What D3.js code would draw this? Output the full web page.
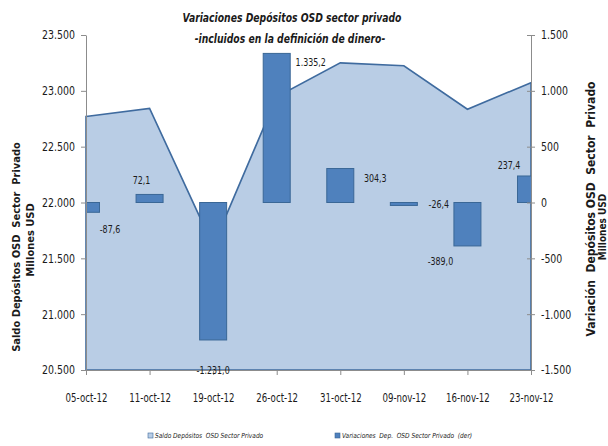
<!DOCTYPE html>
<html><head><meta charset="utf-8">
<script src="https://cdn.jsdelivr.net/npm/d3@7"></script>
<style>
body{margin:0;background:#fff}
svg{display:block}
text{font-family:"DejaVu Sans Condensed","DejaVu Sans",sans-serif;fill:#1a1a1a}
</style>
</head><body>
<svg id="c" width="608" height="446"></svg>
<script>
const categories = ["05-oct-12","11-oct-12","19-oct-12","26-oct-12","31-oct-12","09-nov-12","16-nov-12","23-nov-12"];
const saldo = [22770.0, 22842.1, 21611.1, 22946.3, 23250.6, 23224.2, 22835.2, 23072.6];
const variacion = [-87.6, 72.1, -1231.0, 1335.2, 304.3, -26.4, -389.0, 237.4];
const leftTicks = [20500, 21000, 21500, 22000, 22500, 23000, 23500];
const rightTicks = [-1500, -1000, -500, 0, 500, 1000, 1500];
const titleLines = ["Variaciones Depósitos OSD sector privado", "-incluidos en la definición de dinero-"];
const leftTitle = ["Saldo Depósitos OSD  Sector  Privado", "Millones USD"];
const rightTitle = ["Variación  Depósitos OSD  Sector  Privado", "Millones USD"];
const legendLabels = ["Saldo Depósitos  OSD Sector Privado", "Variaciones  Dep.  OSD Sector Privado  (der)"];

// label offsets (px) relative to bar end
const labelOffsets = [[24,17],[-8,-14],[0,30],[34,9],[35,10],[35,-1],[-27,15],[-22,-11]];

const locale = d3.formatLocale({decimal:",", thousands:".", grouping:[3], currency:["",""], minus:"-"});
const fmtTick = locale.format(",.0f");
const fmtVal = locale.format(",.1f");

// emulate a narrow (Calibri-like) face by compressing glyphs horizontally
function condense(sel, f){
  sel.each(function(){
    const w = this.getComputedTextLength();
    this.setAttribute("textLength", (w*f).toFixed(1));
    this.setAttribute("lengthAdjust","spacingAndGlyphs");
  });
}

const svg = d3.select("#c");
const L = 86, R = 531, T = 35, B = 370;

const x = d3.scalePoint().domain(categories).range([L, R]);
const yL = d3.scaleLinear().domain([20500, 23500]).range([B, T]);
const yR = d3.scaleLinear().domain([-1500, 1500]).range([B, T]);

const lineColor = "#3f6b9f";
const areaFill = "#b9cde5";
const barFill = "#4f81bd";
const barStroke = "#3a6796";
const axisColor = "#8c8c8c";

svg.append("defs").append("clipPath").attr("id","plot")
  .append("rect").attr("x",L).attr("y",T-2).attr("width",R-L).attr("height",B-T+4);

const g = svg.append("g");

// Area
const area = d3.area().x((d,i)=>x(categories[i])).y0(yL(20500)).y1(d=>yL(d));
g.append("path").datum(saldo).attr("d", area)
  .attr("fill", areaFill).attr("stroke", lineColor).attr("stroke-width", 1.6).attr("stroke-linejoin","miter");

// Bars
const bw = 27;
g.append("g").attr("clip-path","url(#plot)").selectAll("rect").data(variacion).join("rect")
  .attr("x",(d,i)=>x(categories[i]) - bw/2)
  .attr("y",d=>yR(Math.max(0,d)))
  .attr("width",bw)
  .attr("height",d=>Math.abs(yR(d)-yR(0)))
  .attr("fill",barFill).attr("stroke",barStroke).attr("stroke-width",1);

// Left axis
const la = svg.append("g").attr("transform",`translate(${L},0)`)
  .call(d3.axisLeft(yL).tickValues(leftTicks).tickFormat(fmtTick).tickSizeInner(5).tickSizeOuter(0).tickPadding(6));
la.select(".domain").attr("stroke",axisColor);
la.selectAll(".tick line").attr("stroke",axisColor);
la.selectAll("text").style("font-size","12px").attr("fill","#1a1a1a").call(condense,0.87);

// Right axis
const ra = svg.append("g").attr("transform",`translate(${R},0)`)
  .call(d3.axisRight(yR).tickValues(rightTicks).tickFormat(fmtTick).tickSizeInner(4).tickSizeOuter(0).tickPadding(6));
ra.select(".domain").attr("stroke",axisColor);
ra.selectAll(".tick line").attr("stroke",axisColor).attr("x1",-4);
ra.selectAll("text").style("font-size","12px").attr("fill","#1a1a1a").call(condense,0.87);

// Bottom axis
const ba = svg.append("g").attr("transform",`translate(0,${B})`)
  .call(d3.axisBottom(x).tickSizeInner(5).tickSizeOuter(0).tickPadding(18));
ba.select(".domain").attr("stroke",axisColor);
ba.selectAll(".tick line").attr("stroke",axisColor);
ba.selectAll("text").style("font-size","12px").attr("fill","#1a1a1a").call(condense,0.8);

// Value labels
svg.append("g").selectAll("text").data(variacion).join("text")
  .attr("x",(d,i)=>x(categories[i]) + labelOffsets[i][0])
  .attr("y",(d,i)=>yR(d) + labelOffsets[i][1])
  .attr("text-anchor","middle").attr("dy","0.35em")
  .style("font-size","11px")
  .text(d=>fmtVal(d))
  .call(condense,0.8);

// Title
svg.append("g").selectAll("text").data(titleLines).join("text")
  .attr("x",(d,i)=> i===0 ? 292 : 290)
  .attr("y",(d,i)=> i===0 ? 17 : 38)
  .attr("dy","0.35em").attr("text-anchor","middle")
  .style("font-size","13px").style("font-weight","bold").style("font-style","italic")
  .text(d=>d)
  .call(condense,0.79);

// Left axis title
const lt = svg.append("g");
lt.append("text").attr("transform","translate(16,247) rotate(-90)").attr("text-anchor","middle").attr("dy","0.35em")
  .style("font-size","11px").style("font-weight","bold").style("white-space","pre").text(leftTitle[0]);
lt.append("text").attr("transform","translate(30,240) rotate(-90)").attr("text-anchor","middle").attr("dy","0.35em")
  .style("font-size","11px").style("font-weight","bold").text(leftTitle[1]);

// Right axis title
const rt = svg.append("g");
rt.append("text").attr("transform","translate(591,209) rotate(-90)").attr("text-anchor","middle").attr("dy","0.35em")
  .style("font-size","12px").style("font-weight","bold").style("white-space","pre").text(rightTitle[0]);
rt.append("text").attr("transform","translate(602,227) rotate(-90)").attr("text-anchor","middle").attr("dy","0.35em")
  .style("font-size","10px").style("font-weight","bold").text(rightTitle[1]);

// Legend
const leg = svg.append("g").attr("transform","translate(0,436)");
const legX = [148, 335];
legendLabels.forEach((lab,i)=>{
  leg.append("rect").attr("x",legX[i]).attr("y",-3).attr("width",5).attr("height",5)
    .attr("fill", i===0 ? areaFill : barFill).attr("stroke", i===0 ? lineColor : barStroke).attr("stroke-width",0.6);
  leg.append("text").attr("x",legX[i]+7).attr("y",0).attr("dy","0.35em")
    .style("font-size","7px").style("font-style","italic").style("white-space","pre").attr("fill","#333").text(lab)
    .call(condense,0.93);
});
</script>
</body></html>
